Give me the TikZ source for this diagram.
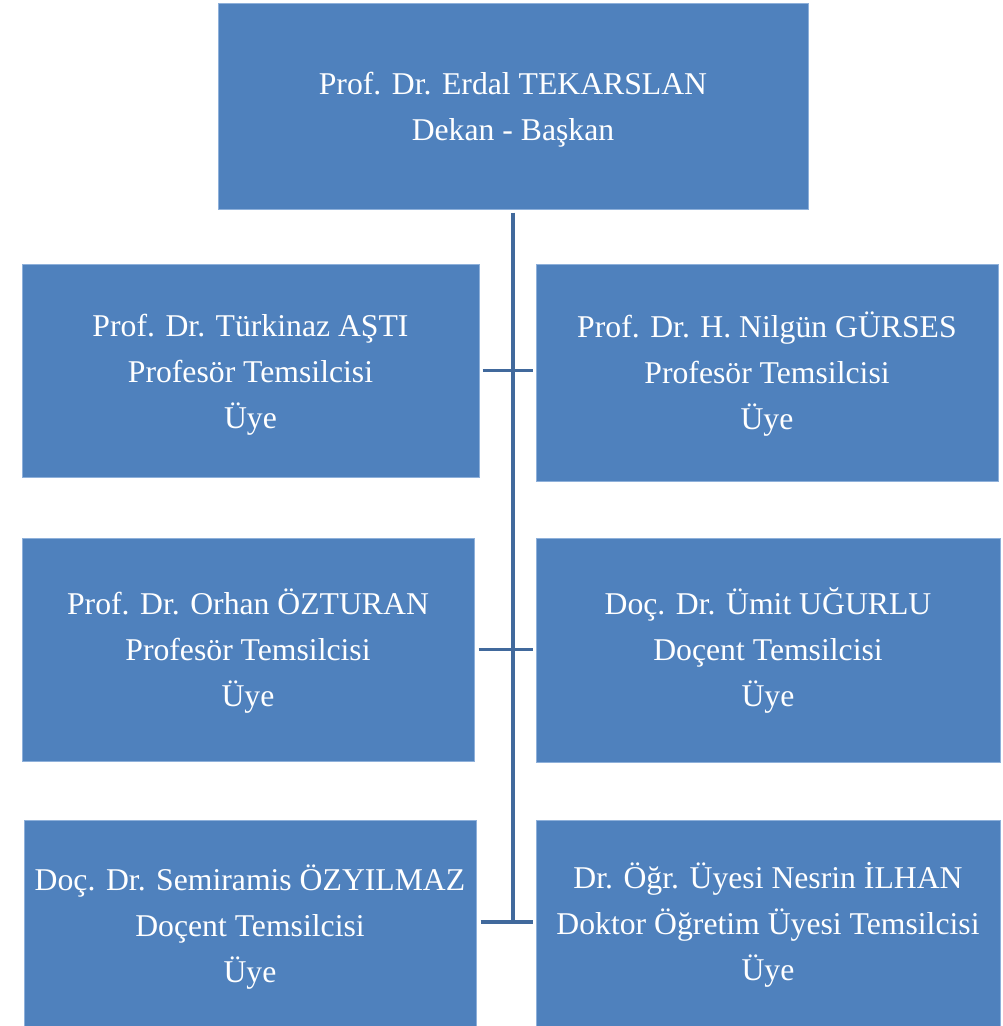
\documentclass[tikz,border=0pt]{standalone}
\usepackage{fontspec}
\setmainfont{Liberation Serif}
\definecolor{kutu}{HTML}{4F81BD}
\definecolor{kenar}{HTML}{8EB0DA}
\definecolor{cizgi}{HTML}{41699C}
\newcommand{\metin}[2][2pt]{%
  \raisebox{-#1}[\height][\depth]{\begin{tabular}{@{}c@{}}#2\end{tabular}}}
\tikzset{
  kurul/.style={draw=kenar,line width=1pt,fill=kutu,text=white,
    inner sep=0pt,
    font=\fontsize{31.7}{46}\selectfont},
  bag/.style={draw=cizgi,line width=3.5pt}
}
\begin{document}
\begin{tikzpicture}[x=1pt,y=-1pt]

\useasboundingbox (0,0) rectangle (1002,1026);

\node[kurul,minimum width=590pt,minimum height=206pt]
     at (513,106) (dekan)
     {\metin{Prof. Dr. Erdal TEKARSLAN\\Dekan - Başkan}};

\node[kurul,minimum width=457pt,minimum height=213pt]
     at (250.5,370.5) (asti)
     {\metin[3pt]{Prof. Dr. Türkinaz AŞTI\\Profesör Temsilcisi\\Üye}};
\node[kurul,minimum width=462pt,minimum height=217pt]
     at (767,372.5) (gurses)
     {\metin{Prof. Dr. H. Nilgün GÜRSES\\Profesör Temsilcisi\\Üye}};

\node[kurul,minimum width=452pt,minimum height=223pt]
     at (248,649.5) (ozturan)
     {\metin{Prof. Dr. Orhan ÖZTURAN\\Profesör Temsilcisi\\Üye}};
\node[kurul,minimum width=464pt,minimum height=224pt]
     at (768,650) (ugurlu)
     {\metin[1pt]{Doç. Dr. Ümit UĞURLU\\Doçent Temsilcisi\\Üye}};

\node[kurul,minimum width=452pt,minimum height=210pt]
     at (250,925) (ozyilmaz)
     {\metin{Doç. Dr. Semiramis ÖZYILMAZ\\Doçent Temsilcisi\\Üye}};
\node[kurul,minimum width=464pt,minimum height=210pt]
     at (768,925) (ilhan)
     {\metin[0pt]{Dr. Öğr. Üyesi Nesrin İLHAN\\Doktor Öğretim Üyesi Temsilcisi\\Üye}};

\coordinate (alt) at (513,922);

\draw[bag,shorten <=3pt] (dekan.south) -- (alt);

\draw[bag,shorten <=3pt,shorten >=3pt]
     (asti.east) -- (asti.east -| gurses.west);
\draw[bag,shorten <=4pt,shorten >=3pt]
     (ozturan.east) -- (ozturan.east -| ugurlu.west);
\draw[bag,shorten <=4pt,shorten >=3pt]
     (ozyilmaz.east |- alt) -- (alt -| ilhan.west);

\end{tikzpicture}
\end{document}
